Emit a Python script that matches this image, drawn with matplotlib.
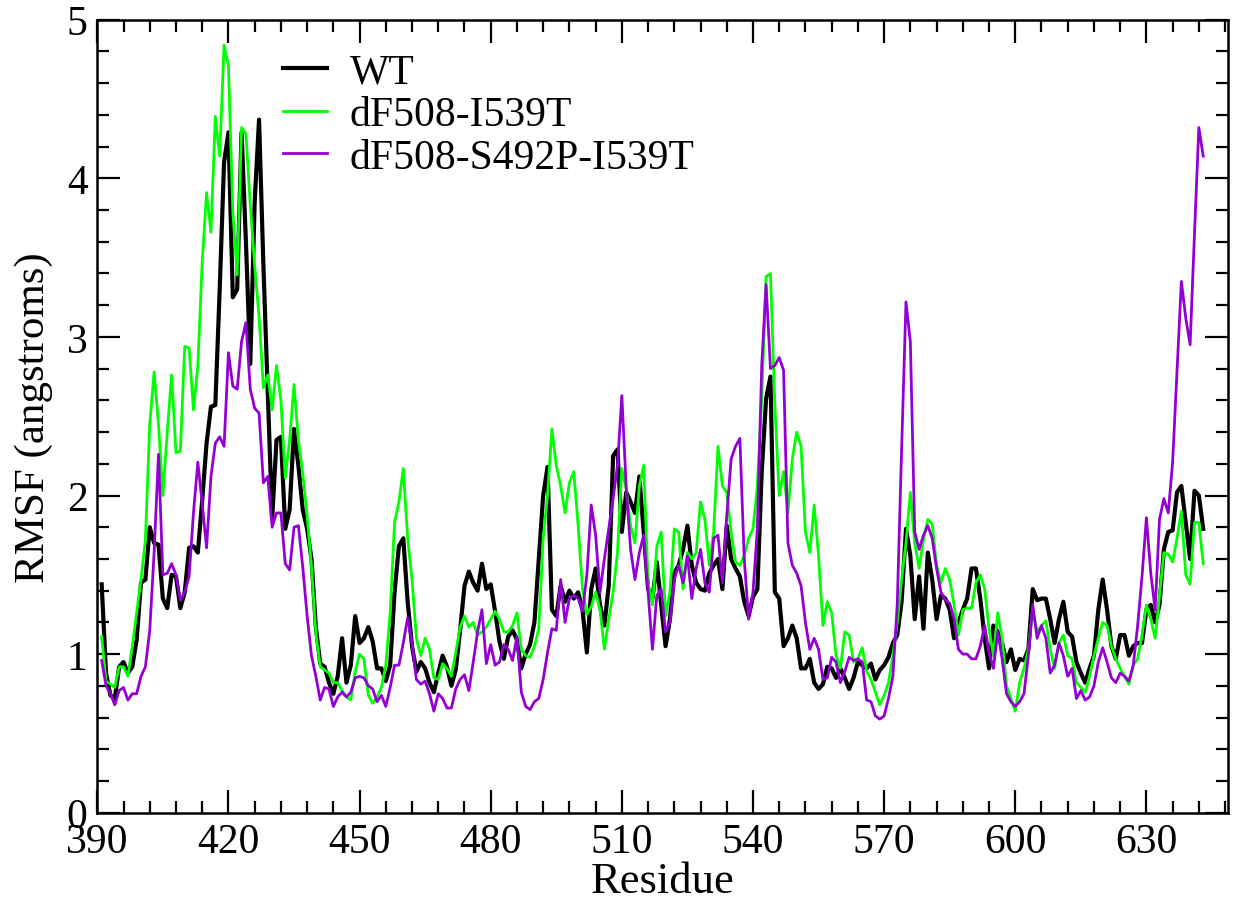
import matplotlib
matplotlib.use("Agg")
import matplotlib.pyplot as plt
from matplotlib.ticker import MultipleLocator
import numpy as np

plt.rcParams['font.family'] = ['Liberation Serif', 'DejaVu Serif']

residue_start = 391
residue_end = 643

wt = [
    1.44, 0.88, 0.74, 0.72, 0.92, 0.95, 0.88, 0.92, 1.09, 1.45,   # 391-400
    1.47, 1.80, 1.70, 1.69, 1.35, 1.29, 1.50, 1.49, 1.29, 1.39,   # 401-410
    1.67, 1.68, 1.64, 1.97, 2.33, 2.56, 2.57, 3.30, 4.10, 4.29,   # 411-420
    3.25, 3.30, 4.29, 3.60, 2.83, 3.85, 4.37, 3.45, 2.65, 1.85,   # 421-430
    2.35, 2.37, 1.79, 1.91, 2.42, 2.19, 1.91, 1.79, 1.60, 1.17,   # 431-440
    0.94, 0.92, 0.82, 0.75, 0.86, 1.10, 0.82, 0.93, 1.24, 1.07,   # 441-450
    1.10, 1.17, 1.08, 0.91, 0.91, 0.83, 0.93, 1.39, 1.68, 1.73,   # 451-460
    1.33, 1.05, 0.89, 0.95, 0.91, 0.82, 0.76, 0.88, 0.99, 0.92,   # 461-470
    0.80, 0.90, 1.15, 1.43, 1.52, 1.45, 1.40, 1.57, 1.41, 1.44,   # 471-480
    1.27, 1.08, 0.97, 1.11, 1.15, 1.09, 0.91, 1.00, 1.06, 1.20,   # 481-490
    1.60, 2.00, 2.18, 1.28, 1.24, 1.43, 1.33, 1.40, 1.35, 1.39,   # 491-500
    1.28, 1.01, 1.41, 1.54, 1.31, 1.18, 1.43, 2.25, 2.29, 1.77,   # 501-510
    2.02, 1.96, 1.89, 2.12, 1.77, 1.41, 1.35, 1.58, 1.31, 1.05,   # 511-520
    1.22, 1.51, 1.56, 1.66, 1.81, 1.56, 1.45, 1.41, 1.40, 1.51,   # 521-530
    1.56, 1.60, 1.41, 1.81, 1.60, 1.54, 1.49, 1.33, 1.24, 1.36,   # 531-540
    1.41, 2.15, 2.61, 2.75, 1.39, 1.35, 1.05, 1.10, 1.18, 1.10,   # 541-550
    0.91, 0.91, 0.97, 0.82, 0.78, 0.81, 0.92, 0.91, 0.85, 0.91,   # 551-560
    0.85, 0.78, 0.85, 0.95, 0.93, 0.91, 0.94, 0.84, 0.90, 0.93,   # 561-570
    0.98, 1.07, 1.12, 1.33, 1.79, 1.62, 1.22, 1.49, 1.16, 1.64,   # 571-580
    1.47, 1.22, 1.37, 1.35, 1.28, 1.10, 1.20, 1.28, 1.35, 1.54,   # 581-590
    1.54, 1.35, 1.10, 0.91, 1.18, 1.14, 1.07, 0.95, 1.03, 0.90,   # 591-600
    0.97, 0.96, 1.03, 1.41, 1.34, 1.35, 1.35, 1.22, 1.07, 1.22,   # 601-610
    1.33, 1.14, 1.11, 0.95, 0.88, 0.82, 0.91, 0.99, 1.28, 1.47,   # 611-620
    1.28, 1.05, 0.97, 1.12, 1.12, 0.99, 1.05, 1.07, 1.07, 1.28,   # 621-630
    1.31, 1.20, 1.31, 1.66, 1.77, 1.78, 2.02, 2.06, 1.83, 1.60,   # 631-640
    2.03, 2.00, 1.79,                                             # 641-643
]

df508_i539t = [
    1.11, 0.83, 0.81, 0.79, 0.92, 0.92, 0.86, 1.05, 1.26, 1.47,   # 391-400
    1.72, 2.45, 2.78, 2.45, 2.00, 2.40, 2.76, 2.27, 2.28, 2.94,   # 401-410
    2.93, 2.54, 2.82, 3.47, 3.91, 3.66, 4.39, 4.14, 4.84, 4.71,   # 411-420
    3.79, 3.39, 4.32, 4.28, 3.83, 3.45, 3.13, 2.68, 2.76, 2.54,   # 421-430
    2.82, 2.60, 2.11, 2.35, 2.70, 2.35, 2.14, 1.87, 1.55, 1.13,   # 431-440
    0.92, 0.90, 0.88, 0.82, 0.82, 0.77, 0.73, 0.71, 0.89, 1.00,   # 441-450
    0.97, 0.74, 0.69, 0.73, 0.79, 0.93, 1.26, 1.83, 1.96, 2.17,   # 451-460
    1.73, 1.47, 1.10, 0.99, 1.10, 1.03, 0.85, 0.84, 0.94, 0.91,   # 461-470
    0.86, 1.01, 1.17, 1.24, 1.17, 1.20, 1.12, 1.14, 1.17, 1.22,   # 471-480
    1.27, 1.22, 1.14, 1.14, 1.18, 1.26, 1.03, 0.99, 0.98, 1.05,   # 481-490
    1.16, 1.73, 2.00, 2.42, 2.19, 2.06, 1.89, 2.08, 2.15, 1.81,   # 491-500
    1.41, 1.25, 1.30, 1.39, 1.28, 1.03, 1.22, 1.39, 1.64, 2.17,   # 501-510
    2.04, 1.81, 1.70, 2.06, 2.19, 1.45, 1.31, 1.68, 1.77, 1.24,   # 511-520
    1.39, 1.79, 1.77, 1.41, 1.64, 1.60, 1.64, 1.96, 1.85, 1.56,   # 521-530
    1.77, 2.31, 2.06, 2.02, 1.77, 1.58, 1.56, 1.62, 1.73, 1.79,   # 531-540
    2.06, 2.61, 3.38, 3.40, 2.57, 2.00, 2.15, 1.89, 2.23, 2.40,   # 541-550
    2.31, 1.77, 1.64, 1.94, 1.62, 1.18, 1.33, 1.26, 0.99, 0.91,   # 551-560
    1.14, 1.12, 0.95, 0.97, 1.04, 0.89, 0.84, 0.76, 0.68, 0.74,   # 561-570
    0.82, 0.99, 1.20, 1.47, 1.70, 2.02, 1.70, 1.54, 1.72, 1.85,   # 571-580
    1.82, 1.56, 1.45, 1.54, 1.47, 1.31, 1.12, 1.28, 1.29, 1.29,   # 581-590
    1.45, 1.50, 1.41, 1.16, 0.99, 1.26, 1.10, 0.80, 0.72, 0.64,   # 591-600
    0.82, 0.91, 1.03, 1.28, 1.14, 1.18, 1.21, 1.03, 0.91, 1.07,   # 601-610
    1.12, 0.99, 0.97, 0.82, 0.79, 0.76, 0.86, 0.99, 1.10, 1.20,   # 611-620
    1.18, 1.05, 0.97, 0.91, 0.86, 0.81, 0.93, 0.97, 1.12, 1.31,   # 621-630
    1.22, 1.10, 1.37, 1.64, 1.63, 1.58, 1.73, 1.90, 1.50, 1.44,   # 631-640
    1.83, 1.83, 1.57,                                             # 641-643
]

df508_s492p_i539t = [
    0.96, 0.80, 0.75, 0.68, 0.77, 0.79, 0.71, 0.75, 0.75, 0.86,   # 391-400
    0.92, 1.15, 1.64, 2.26, 1.50, 1.51, 1.57, 1.50, 1.34, 1.39,   # 401-410
    1.49, 1.89, 2.21, 1.95, 1.67, 2.12, 2.33, 2.37, 2.31, 2.90,   # 411-420
    2.69, 2.67, 2.97, 3.09, 2.67, 2.55, 2.52, 2.08, 2.12, 1.80,   # 421-430
    1.89, 1.89, 1.57, 1.53, 1.80, 1.81, 1.55, 1.24, 0.99, 0.86,   # 431-440
    0.71, 0.79, 0.78, 0.67, 0.73, 0.76, 0.73, 0.76, 0.85, 0.86,   # 441-450
    0.85, 0.80, 0.78, 0.70, 0.74, 0.67, 0.79, 0.93, 0.93, 1.07,   # 451-460
    1.23, 1.07, 0.84, 0.81, 0.83, 0.75, 0.64, 0.75, 0.72, 0.66,   # 461-470
    0.66, 0.78, 0.84, 0.87, 0.77, 0.95, 1.14, 1.28, 0.94, 1.06,   # 471-480
    0.93, 0.95, 1.06, 1.03, 0.96, 1.11, 0.76, 0.67, 0.65, 0.70,   # 481-490
    0.72, 0.84, 1.01, 1.16, 1.15, 1.47, 1.20, 1.35, 1.37, 1.35,   # 491-500
    1.27, 1.50, 1.94, 1.75, 1.39, 1.60, 1.79, 1.98, 2.19, 2.63,   # 501-510
    2.05, 1.66, 1.47, 1.64, 1.75, 1.39, 1.03, 1.37, 1.41, 1.14,   # 511-520
    1.20, 1.47, 1.56, 1.45, 1.62, 1.35, 1.54, 1.66, 1.45, 1.39,   # 521-530
    1.73, 1.75, 1.45, 1.87, 2.23, 2.31, 2.36, 1.60, 1.22, 1.39,   # 531-540
    1.79, 2.82, 3.33, 2.80, 2.82, 2.87, 2.79, 1.70, 1.56, 1.51,   # 541-550
    1.43, 1.20, 1.03, 1.10, 1.03, 0.84, 0.85, 0.98, 0.95, 0.82,   # 551-560
    0.89, 0.98, 0.96, 0.97, 0.95, 0.71, 0.70, 0.61, 0.59, 0.61,   # 561-570
    0.72, 0.86, 1.31, 2.29, 3.22, 2.97, 1.77, 1.66, 1.75, 1.81,   # 571-580
    1.73, 1.54, 1.39, 1.34, 1.32, 1.22, 1.03, 1.00, 1.00, 0.97,   # 581-590
    0.97, 1.05, 1.18, 1.01, 0.91, 1.14, 0.97, 0.75, 0.70, 0.67,   # 591-600
    0.70, 0.75, 0.99, 1.31, 1.10, 1.18, 1.10, 0.88, 0.93, 1.07,   # 601-610
    0.99, 0.86, 0.91, 0.72, 0.77, 0.71, 0.73, 0.80, 0.95, 1.04,   # 611-620
    0.95, 0.85, 0.82, 0.88, 0.86, 0.83, 0.93, 1.18, 1.49, 1.86,   # 621-630
    1.51, 1.28, 1.85, 1.98, 1.89, 2.21, 2.78, 3.35, 3.12, 2.95,   # 631-640
    3.65, 4.32, 4.14,                                             # 641-643
]

labels = ["WT", "dF508-I539T", "dF508-S492P-I539T"]
x_ticks = [390, 420, 450, 480, 510, 540, 570, 600, 630]
y_ticks = [0, 1, 2, 3, 4, 5]

residues = np.arange(residue_start, residue_end + 1)

W, H = 1238, 903
fig = plt.figure(figsize=(W / 100, H / 100), dpi=100)
ax = fig.add_axes([97.3 / W, 1 - 813.7 / H, (1227.7 - 97.3) / W, (813.7 - 20.7) / H])

ax.plot(residues, wt, color="black", lw=3.0, label=labels[0], zorder=3)
ax.plot(residues, df508_i539t, color="#00ff00", lw=2.0, label=labels[1], zorder=4)
ax.plot(residues, df508_s492p_i539t, color="#9400d3", lw=2.0, label=labels[2], zorder=5)

ax.set_xlim(390, 648.6)
ax.set_ylim(0, 5)
ax.set_xticks(x_ticks)
ax.set_yticks(y_ticks)
ax.xaxis.set_minor_locator(MultipleLocator(6))
ax.yaxis.set_minor_locator(MultipleLocator(0.2))

ax.tick_params(which="both", direction="in", top=True, right=True, width=1.6, color="black")
ax.tick_params(which="major", length=16.5, labelsize=30)
ax.tick_params(axis="x", which="major", pad=7)
ax.tick_params(axis="y", which="major", pad=7)
ax.tick_params(which="minor", length=8.6)
for s in ax.spines.values():
    s.set_linewidth(1.8)

ax.set_xlabel("Residue", fontsize=32, labelpad=0)
ax.set_ylabel("RMSF (angstroms)", fontsize=31, labelpad=10)

leg = ax.legend(loc="upper left", bbox_to_anchor=(283 / W, 1 - 54 / H), bbox_transform=fig.transFigure,
                frameon=False, fontsize=30, handlelength=1.05, handletextpad=0.55,
                labelspacing=0.1, borderpad=0, borderaxespad=0)

fig.savefig("out.png", dpi=100)
